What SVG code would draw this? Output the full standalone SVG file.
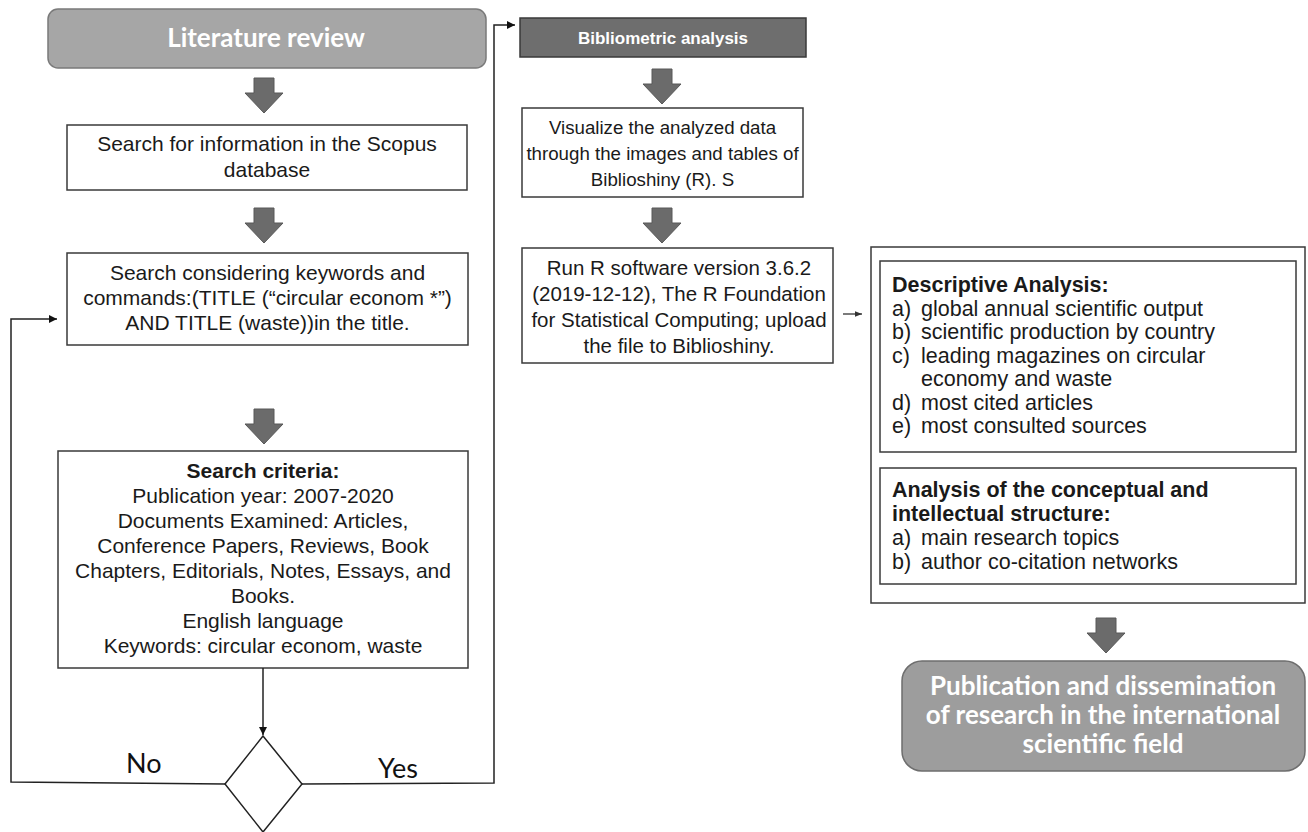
<svg xmlns="http://www.w3.org/2000/svg" width="1308" height="832" viewBox="0 0 1308 832">
<style>
.box{fill:#ffffff;stroke:#3a3a3a;stroke-width:1.5}
.t{font-family:"Liberation Sans",Arial,sans-serif;font-size:21px;fill:#1a1a1a}
.tc{text-anchor:middle}
.b{font-weight:bold}
.cal{font-family:Lato,"Open Sans",sans-serif}
.blk{fill:#6b6b6b;stroke:#585858;stroke-width:1}
.ln{fill:none;stroke:#222;stroke-width:1.5}
</style>
<defs>
<marker id="ah" viewBox="0 0 10 10" refX="10" refY="5" markerWidth="8" markerHeight="8" markerUnits="userSpaceOnUse" orient="auto">
<path d="M0,0 L10,5 L0,10 Z" fill="#111"/>
</marker>
<marker id="ahs" viewBox="0 0 10 10" refX="10" refY="5" markerWidth="7" markerHeight="7" markerUnits="userSpaceOnUse" orient="auto">
<path d="M0,1 L10,5 L0,9 Z" fill="#333"/>
</marker>
<path id="barrow" d="M-10,0 H10 V15 H19 L0,35 L-19,15 H-10 Z"/>
</defs>

<g id="lit-review">
<rect x="48" y="9" width="438" height="59" rx="10" fill="#a6a6a6" stroke="#7a7a7a" stroke-width="1.5"/>
<text x="266" y="47" class="cal b tc" font-size="26" fill="#ffffff">Literature review</text>
</g>

<g id="scopus">
<rect class="box" x="67" y="125" width="400" height="65"/>
<text class="t tc"><tspan x="267" y="151">Search for information in the Scopus</tspan><tspan x="267" y="177">database</tspan></text>
</g>

<g id="keywords">
<rect class="box" x="67" y="253" width="401" height="92"/>
<text class="t tc"><tspan x="267.5" y="280">Search considering keywords and</tspan><tspan x="267.5" y="305">commands:(TITLE (“circular econom *”)</tspan><tspan x="267.5" y="330">AND TITLE (waste))in the title.</tspan></text>
</g>

<g id="criteria">
<rect class="box" x="58" y="451" width="410" height="217"/>
<text class="t tc"><tspan x="263" y="478" font-weight="bold">Search criteria:</tspan><tspan x="263" y="503">Publication year: 2007-2020</tspan><tspan x="263" y="528">Documents Examined: Articles,</tspan><tspan x="263" y="553">Conference Papers, Reviews, Book</tspan><tspan x="263" y="578">Chapters, Editorials, Notes, Essays, and</tspan><tspan x="263" y="603">Books.</tspan><tspan x="263" y="628">English language</tspan><tspan x="263" y="653">Keywords: circular econom, waste</tspan></text>
</g>

<g id="decision">
<polygon points="263,736 302,784 263,832 225,784" fill="#ffffff" stroke="#222" stroke-width="1.5"/>
</g>

<g id="biblio">
<rect x="520" y="18" width="286" height="39" fill="#6e6e6e" stroke="#3a3a3a" stroke-width="1.5"/>
<text x="663" y="43.5" class="tc b" font-family="Liberation Sans, Arial, sans-serif" font-size="17" fill="#ffffff">Bibliometric analysis</text>
</g>

<g id="visualize">
<rect class="box" x="522" y="108" width="281" height="89"/>
<text class="t tc" style="font-size:18.7px"><tspan x="662.5" y="134">Visualize the analyzed data</tspan><tspan x="662.5" y="160">through the images and tables of</tspan><tspan x="662.5" y="186">Biblioshiny (R). S</tspan></text>
</g>

<g id="run-r">
<rect class="box" x="522" y="248" width="311" height="115"/>
<text class="t tc" style="font-size:20.5px"><tspan x="679" y="275">Run R software version 3.6.2</tspan><tspan x="679" y="301">(2019-12-12), The R Foundation</tspan><tspan x="679" y="327">for Statistical Computing; upload</tspan><tspan x="679" y="353">the file to Biblioshiny.</tspan></text>
</g>

<g id="analysis">
<rect class="box" x="871" y="247" width="434" height="356"/>
<g id="descriptive">
<rect class="box" x="880" y="261" width="416" height="191"/>
<text class="t" style="font-size:21.5px"><tspan x="892" y="292" font-weight="bold">Descriptive Analysis:</tspan><tspan x="892" y="315.5">a)</tspan><tspan x="921" y="315.5">global annual scientific output</tspan><tspan x="892" y="339">b)</tspan><tspan x="921" y="339">scientific production by country</tspan><tspan x="892" y="362.5">c)</tspan><tspan x="921" y="362.5">leading magazines on circular</tspan><tspan x="921" y="386">economy and waste</tspan><tspan x="892" y="409.5">d)</tspan><tspan x="921" y="409.5">most cited articles</tspan><tspan x="892" y="433">e)</tspan><tspan x="921" y="433">most consulted sources</tspan></text>
</g>
<g id="conceptual">
<rect class="box" x="880" y="468" width="416" height="116"/>
<text class="t" style="font-size:21.5px"><tspan x="892" y="497" font-weight="bold">Analysis of the conceptual and</tspan><tspan x="892" y="521" font-weight="bold">intellectual structure:</tspan><tspan x="892" y="545">a)</tspan><tspan x="921" y="545">main research topics</tspan><tspan x="892" y="569">b)</tspan><tspan x="921" y="569">author co-citation networks</tspan></text>
</g>
</g>

<g id="publication">
<rect x="902" y="661" width="403" height="110" rx="20" fill="#9d9d9d" stroke="#6e6e6e" stroke-width="1.5"/>
<text class="cal b tc" font-size="26" fill="#ffffff"><tspan x="1103" y="695">Publication and dissemination</tspan><tspan x="1103" y="724">of research in the international</tspan><tspan x="1103" y="753">scientific field</tspan></text>
</g>

<g id="connectors">
<use href="#barrow" x="264" y="78" class="blk"/>
<use href="#barrow" x="264" y="208" class="blk"/>
<use href="#barrow" x="264" y="409" class="blk"/>
<use href="#barrow" x="662" y="69" class="blk"/>
<use href="#barrow" x="662" y="208" class="blk"/>
<use href="#barrow" x="1106" y="618" class="blk"/>
<line class="ln" x1="263" y1="668" x2="263" y2="735" marker-end="url(#ah)"/>
<polyline class="ln" points="225,784 11,782 11,319 57,319" marker-end="url(#ah)"/>
<polyline class="ln" points="302,784 494,783 494,25 515,25" marker-end="url(#ah)"/>
<line x1="843" y1="314" x2="862" y2="314" stroke="#333" stroke-width="1.3" marker-end="url(#ahs)"/>
<text x="126" y="773" class="cal" font-size="27" fill="#111">No</text>
<text x="378" y="778" class="cal" font-size="27" fill="#111">Yes</text>
</g>
</svg>
